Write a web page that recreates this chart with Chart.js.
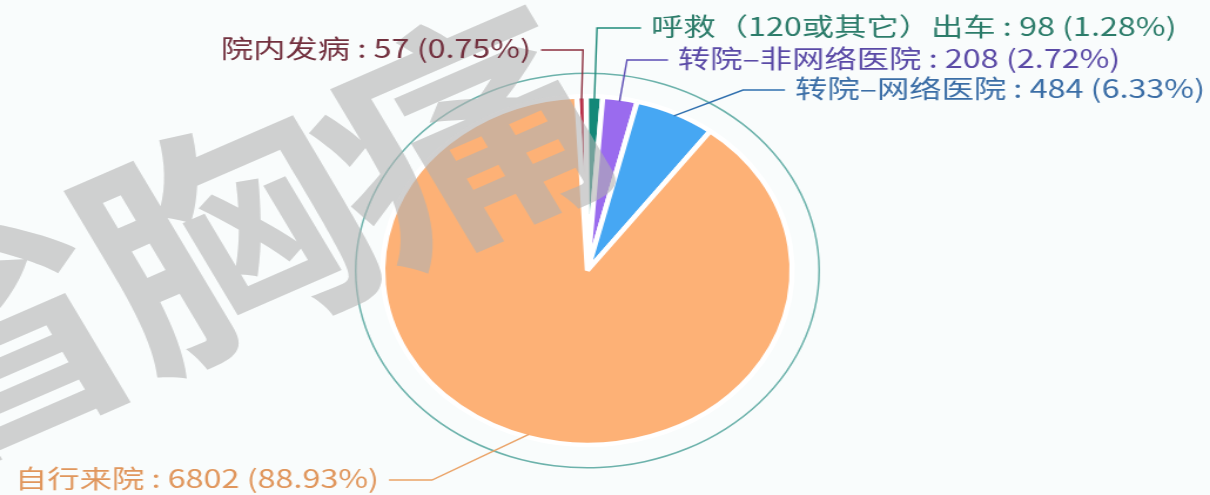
<!DOCTYPE html>
<html>
<head>
<meta charset="utf-8">
<script src="https://cdn.jsdelivr.net/npm/chart.js@4.4.1/dist/chart.umd.min.js"></script>
<style>
  html, body { margin: 0; padding: 0; background: #f9fcfc; overflow: hidden; }
  /* the reference picture is stretched sideways, so the whole chart is too */
  #wrap { width: 1030px; height: 495px; transform: scaleX(1.1748); transform-origin: 0 0; }
</style>
</head>
<body>
<div id="wrap"><canvas id="chart"></canvas></div>
<script>

// DATA PART

var labels = ['院内发病', '呼救（120或其它）出车', '转院–非网络医院', '转院–网络医院', '自行来院'];
var values = [57, 98, 208, 484, 6802];

// STYLE PART

var SX = 1.1748;
var sliceColors = ['#b8324a', '#138878', '#9a6bee', '#46a7f3', '#fdb176'];
var lineColors  = ['#8c2e3e', '#1f8a7a', '#5b4cb4', '#2f6fae', '#eaa266'];
var textColors  = ['#72303e', '#2c7c6a', '#5a4aa6', '#3b6ea6', '#e0965c'];

// leader lines, in pixels of the final (stretched) picture
var guides = [
    { elbow: [583, 50], end: [541, 50], side: 'left' },
    { elbow: [597, 28], end: [641, 28], side: 'right' },
    { elbow: [627, 60], end: [668, 60], side: 'right' },
    { elbow: [743, 90], end: [785, 90], side: 'right' },
    { elbow: [432, 480], end: [389, 480], side: 'left' }
];

var total = values.reduce(function (a, b) { return a + b; }, 0);

// PLUGIN PART

var watermark = {
    id: 'watermark',
    afterDatasetsDraw: function (chart) {
        // letters go on their own layer first so overlaps don't get darker
        var layer = document.createElement('canvas');
        layer.width = chart.width;
        layer.height = chart.height;
        var lc = layer.getContext('2d');
        var chars = '省胸痛'.split('');
        var step = 226;
        var dir = -27 * Math.PI / 180;
        lc.font = 'bold 238px "Noto Sans CJK SC"';
        lc.fillStyle = 'rgb(178, 178, 178)';
        lc.textAlign = 'center';
        lc.textBaseline = 'middle';
        chars.forEach(function (c, i) {
            var d = (i - 1) * step;
            lc.save();
            lc.translate(190 + Math.cos(dir) * d, 238 + Math.sin(dir) * d);
            lc.rotate(-27 * Math.PI / 180);
            lc.fillText(c, 0, 0);
            lc.restore();
        });
        var ctx = chart.ctx;
        ctx.save();
        ctx.globalAlpha = 0.6;
        ctx.drawImage(layer, 0, 0, chart.width, chart.height);
        ctx.restore();
    }
};

var pieLabels = {
    id: 'pieLabels',
    afterDraw: function (chart) {
        var ctx = chart.ctx;
        var meta = chart.getDatasetMeta(2);
        meta.data.forEach(function (arc, i) {
            var p = arc.getProps(['x', 'y', 'startAngle', 'endAngle', 'outerRadius']);
            var mid = (p.startAngle + p.endAngle) / 2;
            var r = p.outerRadius - 3;
            var g = guides[i];
            var ex = g.elbow[0] / SX, ey = g.elbow[1];
            var hx = g.end[0] / SX, hy = g.end[1];

            ctx.save();
            ctx.strokeStyle = lineColors[i];
            ctx.lineWidth = 1.4;
            ctx.beginPath();
            ctx.moveTo(p.x + Math.cos(mid) * r, p.y + Math.sin(mid) * r);
            ctx.lineTo(ex, ey);
            ctx.lineTo(hx, hy);
            ctx.stroke();

            var pct = (values[i] / total * 100).toFixed(2);
            var text = labels[i] + ' : ' + values[i] + ' (' + pct + '%)';
            var gap = 10 / SX;
            ctx.translate(g.side === 'right' ? hx + gap : hx - gap, hy - 2);
            ctx.scale(1.1, 1);
            ctx.font = '25px "Noto Sans CJK SC"';
            ctx.fillStyle = textColors[i];
            ctx.textBaseline = 'middle';
            ctx.textAlign = g.side === 'right' ? 'left' : 'right';
            ctx.fillText(text, 0, 0);
            ctx.restore();
        });
    }
};

// CHART PART

var ctx = document.getElementById('chart').getContext('2d');
var myChart = new Chart(ctx, {
    type: 'pie',
    data: {
        labels: labels,
        datasets: [{
            // thin outer ring
            data: [1],
            backgroundColor: '#6cb2ab',
            borderWidth: 0,
            weight: 1.5
        }, {
            // empty band between ring and pie
            data: [1],
            backgroundColor: 'rgba(0,0,0,0)',
            borderWidth: 0,
            weight: 22.25
        }, {
            data: values,
            backgroundColor: sliceColors,
            borderColor: '#ffffff',
            borderWidth: 4.5,
            weight: 174.25
        }]
    },
    options: {
        responsive: true,
        maintainAspectRatio: false,
        animation: false,
        radius: 198,
        rotation: -3,
        layout: {
            padding: { top: 72, bottom: 26, left: 300, right: 330 }
        },
        plugins: {
            legend: { display: false },
            tooltip: { enabled: false }
        }
    },
    plugins: [watermark, pieLabels]
});

</script>
</body>
</html>
